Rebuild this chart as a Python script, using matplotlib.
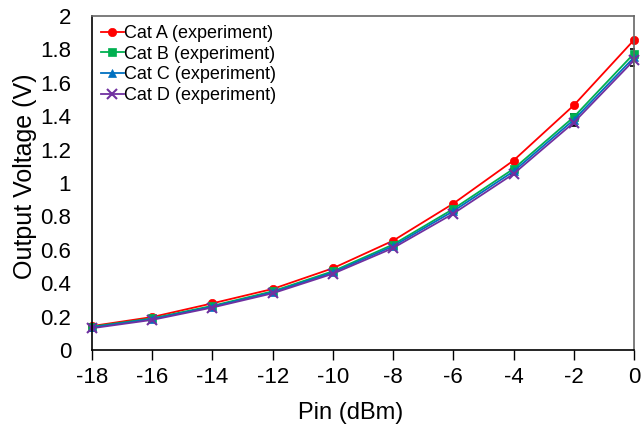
import matplotlib
matplotlib.use("Agg")
import matplotlib.pyplot as plt

plt.rcParams['font.family'] = ['Liberation Sans', 'DejaVu Sans']

pin = [-18, -16, -14, -12, -10, -8, -6, -4, -2, 0]
cat_a = [0.144, 0.198, 0.280, 0.366, 0.490, 0.655, 0.877, 1.135, 1.465, 1.856]
cat_b = [0.140, 0.190, 0.265, 0.352, 0.472, 0.632, 0.845, 1.085, 1.395, 1.775]
cat_c = [0.136, 0.186, 0.260, 0.346, 0.465, 0.622, 0.832, 1.070, 1.378, 1.752]
cat_d = [0.131, 0.181, 0.255, 0.340, 0.457, 0.611, 0.817, 1.055, 1.362, 1.735]
err_c = [0.005, 0.005, 0.006, 0.007, 0.008, 0.010, 0.012, 0.015, 0.035, 0.050]

labels = ["Cat A (experiment)", "Cat B (experiment)", "Cat C (experiment)", "Cat D (experiment)"]
colors = ["#FF0000", "#00B050", "#0070C0", "#7030A0"]
markers = ["o", "s", "^", "x"]
xticks = [-18, -16, -14, -12, -10, -8, -6, -4, -2, 0]
yticks = [0, 0.2, 0.4, 0.6, 0.8, 1, 1.2, 1.4, 1.6, 1.8, 2]
yticklabels = ["0", "0.2", "0.4", "0.6", "0.8", "1", "1.2", "1.4", "1.6", "1.8", "2"]

fig = plt.figure(figsize=(6.41, 4.28), dpi=100)
ax = fig.add_axes([0.1435, 0.182, 0.8455, 0.7806])

ax.errorbar(pin, cat_c, yerr=err_c, fmt='none', ecolor='black', elinewidth=1.2,
            capsize=3, capthick=1.2, zorder=1)
for vals, lab, c, m in zip([cat_a, cat_b, cat_c, cat_d], labels, colors, markers):
    ms = 6 if m != "x" else 7
    ax.plot(pin, vals, color=c, marker=m, markersize=ms, linewidth=1.3,
            markeredgewidth=1.5 if m == "x" else 0.5, label=lab, zorder=2, clip_on=False)

ax.set_xlim(-18, 0)
ax.set_ylim(0, 2)
ax.set_xticks(xticks)
ax.set_xticklabels([str(v) for v in xticks])
ax.set_yticks(yticks)
ax.set_yticklabels(yticklabels)
ax.tick_params(axis='x', direction='out', length=7, width=1, labelsize=16, pad=5)
ax.tick_params(axis='y', length=0, labelsize=16, pad=15)
ax.set_xlabel("Pin (dBm)", fontsize=17, labelpad=8)
ax.xaxis.set_label_coords(0.478, -0.155)
ax.set_ylabel("Output Voltage (V)", fontsize=18, labelpad=4)
ax.yaxis.set_label_coords(-0.102, 0.52)

ax.spines['top'].set_color('#666666')
ax.spines['right'].set_color('#666666')
for s in ax.spines.values():
    s.set_linewidth(1.2)

leg = ax.legend(loc='upper left', frameon=False, fontsize=13, handlelength=1.25,
                handletextpad=0.05, labelspacing=0.2, borderaxespad=0.1,
                bbox_to_anchor=(0.0, 1.0))

fig.savefig("out.png", dpi=100)
